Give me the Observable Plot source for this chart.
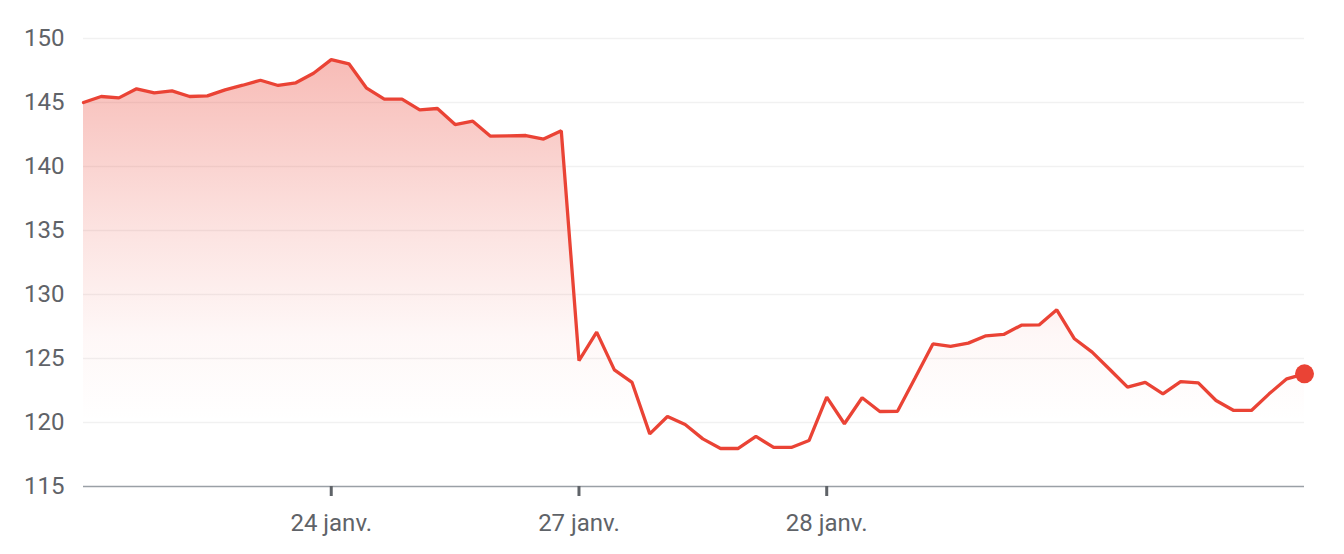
<!DOCTYPE html>
<html><head><meta charset="utf-8">
<script src="https://cdn.jsdelivr.net/npm/d3@7"></script>
<script src="https://cdn.jsdelivr.net/npm/@observablehq/plot@0.6"></script>
<style>body{margin:0;background:#fff} svg{font-family:Roboto, sans-serif}</style>
</head><body><div id="chart"></div>
<script>
const prices = [
  145.0, 145.47, 145.36, 146.07, 145.76, 145.91, 145.47, 145.52, 145.99, 146.35, 146.74, 146.33, 146.54, 147.29,
  148.35, 148.02, 146.12, 145.26, 145.27, 144.43, 144.53, 143.28, 143.54, 142.37, 142.4, 142.42, 142.14, 142.79,
  124.84, 127.06, 124.11, 123.13, 119.11, 120.47, 119.84, 118.72, 117.97, 117.97, 118.91, 118.05, 118.05, 118.59,
  121.98, 119.9, 121.93, 120.86, 120.88, 123.49, 126.14, 125.94, 126.2, 126.77, 126.88, 127.6, 127.62, 128.8,
  126.54, 125.5, 124.14, 122.76, 123.13, 122.24, 123.2, 123.1, 121.72, 120.94, 120.94, 122.24, 123.41, 123.8
];
const tickIndex = [14, 28, 42];
const tickLabels = ["24 janv.", "27 janv.", "28 janv."];
const yTicks = [115, 120, 125, 130, 135, 140, 145, 150];

const data = prices.map((v, i) => ({i, v}));
const chart = Plot.plot({
  width: 1344, height: 554,
  marginLeft: 83, marginRight: 40, marginTop: 38, marginBottom: 68,
  style: {fontFamily: "Roboto, sans-serif", fontSize: "24px", color: "#5f6368", background: "#fff"},
  x: {domain: [0, prices.length - 1], label: null},
  y: {domain: [115, 150], label: null},
  marks: [
    Plot.ruleY(yTicks.slice(1), {stroke: "#f1f1f1", strokeWidth: 1.5}),
    Plot.areaY(data, {x: "i", y1: 115, y2: "v", fill: "url(#grad)"}),
    Plot.ruleY([yTicks[0]], {stroke: "#9aa0a6", strokeWidth: 1.5}),
    Plot.lineY(data, {x: "i", y: "v", stroke: "#ea4335", strokeWidth: 3.3, strokeLinejoin: "miter"}),
    Plot.dot(data.slice(-1), {x: "i", y: "v", r: 9.5, fill: "#ea4335"}),
    Plot.axisY(yTicks, {tickSize: 0, tickPadding: 19, fill: "#5f6368"}),
    Plot.axisX(tickIndex, {tickFormat: d => tickLabels[tickIndex.indexOf(d)], tickSize: 10, tickPadding: 17, stroke: "#5f6368", strokeWidth: 3, fill: "#5f6368"})
  ]
});
const defs = d3.select(chart).insert("defs", ":first-child");
const g = defs.append("linearGradient").attr("id", "grad").attr("x1", 0).attr("y1", 0).attr("x2", 0).attr("y2", 1);
[[0, 0.36], [0.4, 0.15], [0.65, 0.04], [0.85, 0]].forEach(([o, a]) =>
  g.append("stop").attr("offset", o).attr("stop-color", "#ea4335").attr("stop-opacity", a));
document.getElementById("chart").appendChild(chart);
</script>
</body></html>
